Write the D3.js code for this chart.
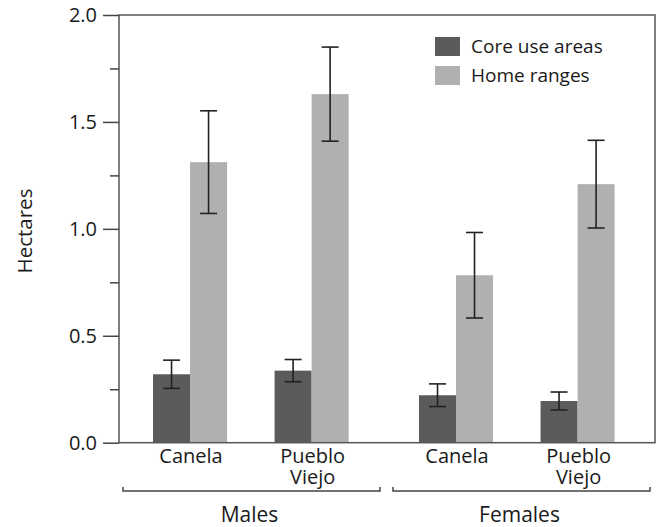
<!DOCTYPE html>
<html><head><meta charset="utf-8">
<script src="https://cdn.jsdelivr.net/npm/d3@7"></script>
<style>body{margin:0;background:#fff}svg{display:block}text{font-family:"Open Sans",sans-serif;fill:#1a1a1a}</style>
</head><body><svg id="c" width="658" height="527"></svg>
<script>
const sexes = ["Males", "Females"];
const sites = ["Canela", "Pueblo Viejo"];
const series = ["Core use areas", "Home ranges"];
// values [sex][site]
const coreMeans = [[0.32, 0.337], [0.222, 0.195]];
const coreErr   = [[0.066, 0.052], [0.053, 0.042]];
const homeMeans = [[1.312, 1.63], [0.783, 1.209]];
const homeErr   = [[0.24, 0.22], [0.2, 0.205]];
const yTicks = [0, 0.5, 1.0, 1.5, 2.0];
const yMinorTicks = [0.25, 0.75, 1.25, 1.75];
const colors = ["#5b5b5b", "#b0b0b0"];

const rows = [];
sexes.forEach((sx, i) => sites.forEach((st, j) => {
  rows.push({sex: sx, site: st, series: series[0], v: coreMeans[i][j], e: coreErr[i][j]});
  rows.push({sex: sx, site: st, series: series[1], v: homeMeans[i][j], e: homeErr[i][j]});
}));

const svg = d3.select("#c");
const L = 119, R = 655, T = 15, B = 442.7;
const y = d3.scaleLinear().domain([0, 2]).range([B, T]);
const xSex = d3.scaleBand().domain(sexes).range([L, R]).paddingInner(0.2647).paddingOuter(0.14).align(0.457);
const xSite = d3.scaleBand().domain(sites).range([0, 195.6]).paddingInner(0.391).paddingOuter(0);
const xSer = d3.scaleBand().domain(series).range([0, xSite.bandwidth()]);
const brSex = d3.scalePoint().domain(sexes).range([251.5, 521.5]);

// bars
const bx = d => xSex(d.sex) + xSite(d.site) + xSer(d.series);
svg.append("g").selectAll("rect").data(rows).join("rect")
  .attr("x", bx).attr("width", xSer.bandwidth())
  .attr("y", d => y(d.v)).attr("height", d => y(0) - y(d.v))
  .attr("fill", d => colors[series.indexOf(d.series)]);

// error bars
const eg = svg.append("g").attr("stroke", "#222").attr("stroke-width", 1.6);
const cx = d => bx(d) + xSer.bandwidth() / 2;
const cap = 8.5;
rows.forEach(d => {
  const g = eg.append("g");
  g.append("line").attr("x1", cx(d)).attr("x2", cx(d)).attr("y1", y(d.v + d.e)).attr("y2", y(d.v - d.e));
  [d.v + d.e, d.v - d.e].forEach(v => g.append("line").attr("x1", cx(d) - cap).attr("x2", cx(d) + cap).attr("y1", y(v)).attr("y2", y(v)));
});

// frame
svg.append("rect").attr("x", L).attr("y", T).attr("width", R - L).attr("height", B - T)
  .attr("fill", "none").attr("stroke", "#555").attr("stroke-width", 1.5);

// y axis
const ya = svg.append("g").attr("transform", `translate(${L},0)`)
  .call(d3.axisLeft(y).tickValues(yTicks).tickFormat(d3.format(".1f")).tickSize(16).tickPadding(6));
ya.select(".domain").remove();
ya.selectAll("line").attr("stroke", "#444").attr("stroke-width", 1.5);
ya.selectAll("text").attr("font-size", 20).attr("fill", "#1a1a1a").attr("font-family", "Open Sans");
const ym = svg.append("g").attr("transform", `translate(${L},0)`)
  .call(d3.axisLeft(y).tickValues(yMinorTicks).tickFormat("").tickSize(9));
ym.select(".domain").remove();
ym.selectAll("line").attr("stroke", "#444").attr("stroke-width", 1.5);

svg.append("text").attr("transform", `translate(32,231) rotate(-90)`)
  .attr("text-anchor", "middle").attr("font-size", 20.5).text("Hectares");

// x labels
const xl = svg.append("g").attr("font-size", 20).attr("text-anchor", "middle");
sexes.forEach(sx => sites.forEach(st => {
  const px = xSex(sx) + xSite(st) + xSite.bandwidth() / 2 + 1;
  const t = xl.append("text").attr("x", px).attr("y", 463);
  st.split(" ").forEach((w, k) => t.append("tspan").attr("x", px).attr("dy", k ? 20.5 : 0).text(w));
}));

// brackets
const half = 128.5;
sexes.forEach(sx => {
  const c = brSex(sx);
  svg.append("path").attr("d", `M${c - half},487V491H${c + half}V487`)
    .attr("fill", "none").attr("stroke", "#444").attr("stroke-width", 1.5);
  svg.append("text").attr("x", c - 2).attr("y", 522).attr("text-anchor", "middle").attr("font-size", 21).text(sx);
});

// legend
const lg = svg.append("g");
series.forEach((s, i) => {
  lg.append("rect").attr("x", 435).attr("y", 37 + i * 29).attr("width", 25).attr("height", 19).attr("fill", colors[i]);
  lg.append("text").attr("x", 471).attr("y", 53 + i * 29).attr("font-size", 19).text(s);
});
</script></body></html>
